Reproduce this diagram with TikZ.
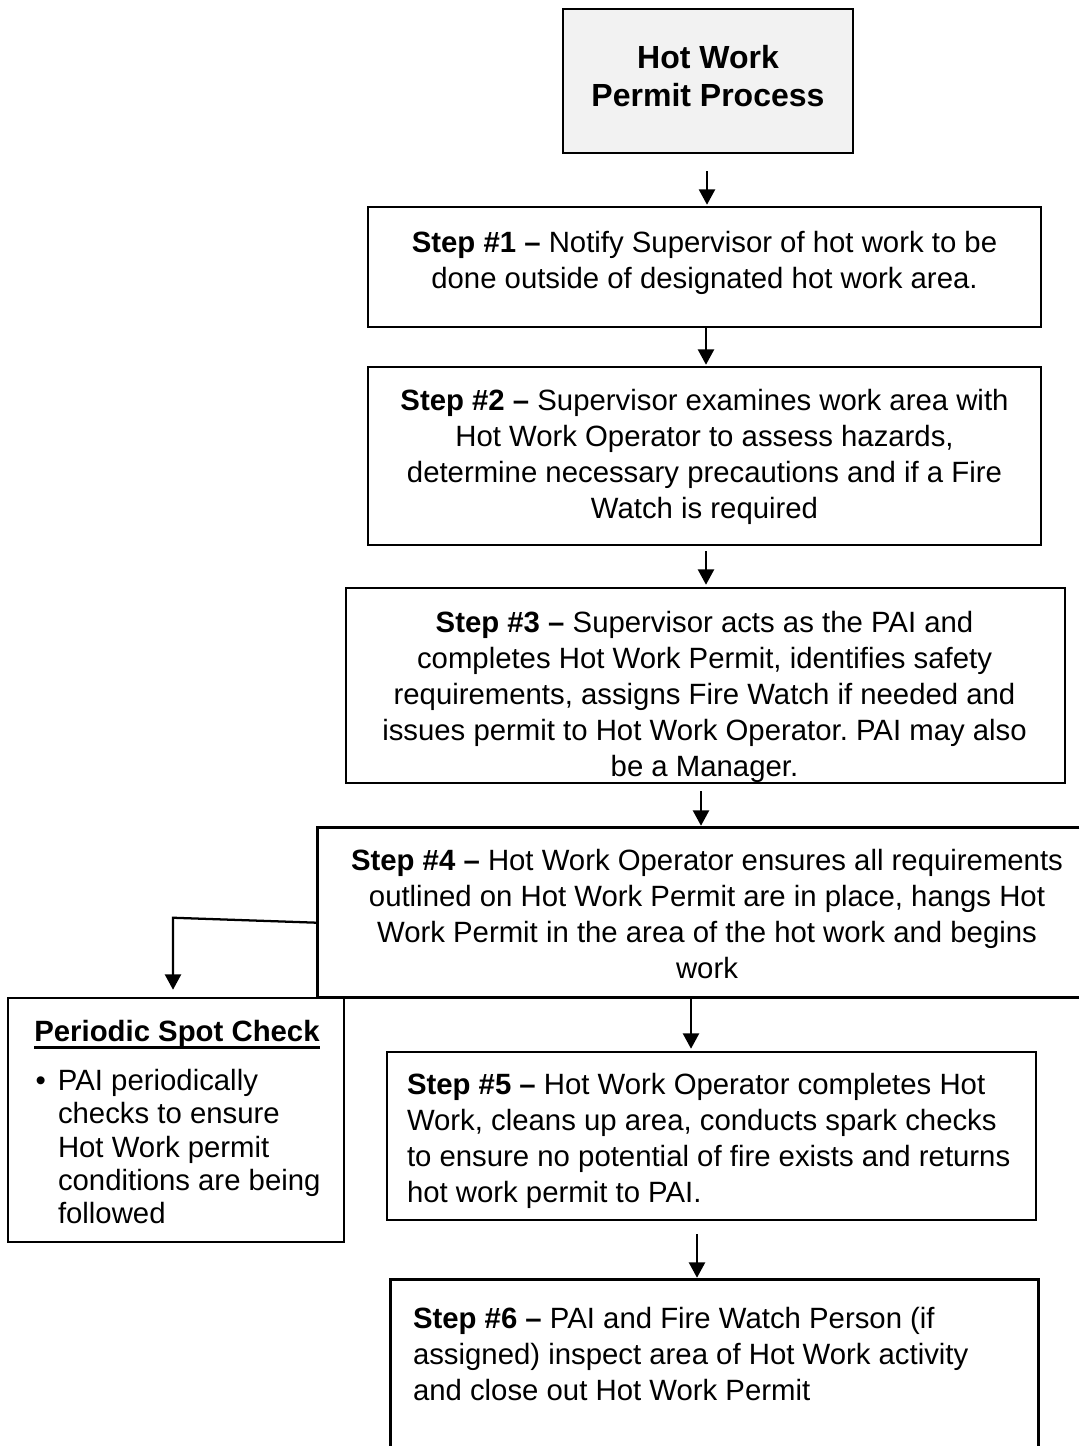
\documentclass[tikz,border=0pt]{standalone}
\usepackage{fontspec}
\setmainfont{Liberation Sans}
\newcommand\thickul[1]{\setbox0\hbox{#1}\leavevmode\rlap{\rule[-5.5pt]{\wd0}{2pt}}\box0}
\frenchspacing
\usetikzlibrary{arrows.meta,calc,fit}
\begin{document}
\begin{tikzpicture}[x=0.75pt,y=-0.75pt,
  box/.style={draw=black, line width=1.9pt, inner sep=0pt},
  openbox/.style={draw=none, inner sep=0pt},
  border/.style={line width=1.9pt},
  txt/.style={font=\fontsize{22pt}{27pt}\selectfont, inner sep=0pt},
  arr/.style={line width=1.7pt, -{Triangle[length=11.5pt,width=12pt]}}]
\useasboundingbox (0,0) rectangle (1079,1446);

% boxes
\node[box, fill=black!5, fit={(563,9) (853,153)}] (top) {};
\node[box, fit={(368,207) (1041,327)}] (s1) {};
\node[box, fit={(368,367) (1041,545)}] (s2) {};
\node[box, fit={(346,588) (1065,783)}] (s3) {};
\node[openbox, fit={(318,828) (1079,997)}] (s4) {};
\draw[border] (s4.north east) -- (s4.north west) -- (s4.south west) -- (s4.south east);
\node[box, fit={(8,998) (344,1242)}] (pc) {};
\node[box, fit={(387,1052) (1036,1220)}] (s5) {};
\node[openbox, fit={(391,1280) (1038,1446)}] (s6) {};
\draw[border] (s6.south west) -- (s6.north west) -- (s6.north east) -- (s6.south east);

% texts
\node[txt, font=\fontsize{24pt}{28.5pt}\selectfont\bfseries, align=center] (topt)
  at ($(top.center)+(0,-5)$) {Hot Work\\Permit Process};
\node[txt, align=center] (s1t) at ($(s1.center)+(0,-4)$)
  {\textbf{Step \#1 –} Notify Supervisor of hot work to be\\done outside of designated hot work area.};
\node[txt, align=center] (s2t) at ($(s2.center)+(0,1)$)
  {\textbf{Step \#2 –} Supervisor examines work area with\\Hot Work Operator to assess hazards,\\determine necessary precautions and if a Fire\\Watch is required};
\node[txt, align=center] (s3t) at ($(s3.center)+(-1,11.5)$)
  {\textbf{Step \#3 –} Supervisor acts as the PAI and\\completes Hot Work Permit, identifies safety\\requirements, assigns Fire Watch if needed and\\issues permit to Hot Work Operator. PAI may also\\be a Manager.};
\node[txt, align=center] (s4t) at ($(s4.center)+(8.5,1.5)$)
  {\textbf{Step \#4 –} Hot Work Operator ensures all requirements\\outlined on Hot Work Permit are in place, hangs Hot\\Work Permit in the area of the hot work and begins\\work};
\node[txt, align=left, anchor=west] (s5t) at ($(s5.west)+(21,5)$)
  {\textbf{Step \#5 –} Hot Work Operator completes Hot\\Work, cleans up area, conducts spark checks\\to ensure no potential of fire exists and returns\\hot work permit to PAI.};
\node[txt, align=left, anchor=west] (s6t) at ($(s6.north west)+(22,74)$)
  {\textbf{Step \#6 –} PAI and Fire Watch Person (if\\assigned) inspect area of Hot Work activity\\and close out Hot Work Permit};
\node[txt, font=\fontsize{22pt}{27pt}\selectfont\bfseries] (pct) at ($(pc.north)+(1,38)$)
  {\thickul{Periodic Spot Check}};
\node[txt, font=\fontsize{22pt}{25pt}\selectfont, align=left, anchor=west] (pcb)
  at ($(pc.north west)+(51,150)$)
  {\llap{•\hspace{9pt}}PAI periodically\\checks to ensure\\Hot Work permit\\conditions are being\\followed};

% connectors
\draw[arr] ($(top.south)+(-1,17)$) -- ($(top.south |- s1.north)+(-1,-1)$);
\draw[arr] ($(s1.south)+(1.5,0)$) -- ($(s1.south |- s2.north)+(1.5,-1)$);
\draw[arr] ($(s2.south)+(1.5,5)$) -- ($(s2.south |- s3.north)+(1.5,-2)$);
\draw[arr] ($(s3.south)+(-4.5,7)$) -- ($(s3.south |- s4.north)+(-4.5,-2)$);
\draw[arr] ($(s4.south)+(-7.5,0)$) -- ($(s4.south |- s5.north)+(-7.5,-2)$);
\draw[arr] ($(s5.south)+(-14.5,13)$) -- ($(s5.south |- s6.north)+(-14.5,-2)$);
\draw[arr] ($(s4.north west)+(0,95)$) -- ($(pc.north)+(-3,-79)$) -- ($(pc.north)+(-3,-7)$);
\end{tikzpicture}
\end{document}
